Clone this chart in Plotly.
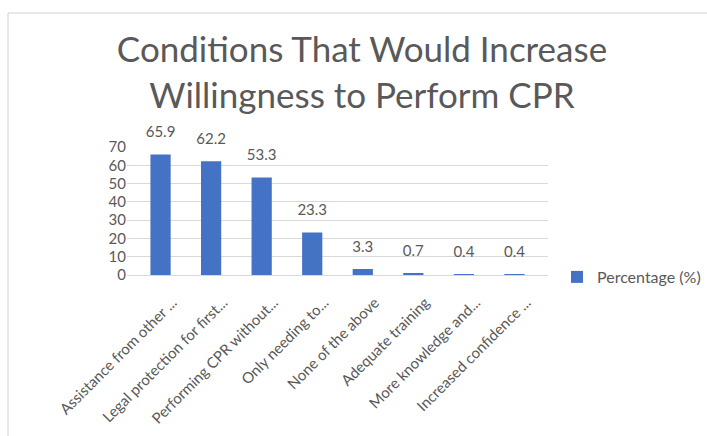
import plotly.graph_objects as go

categories = ["Assistance from other ...", "Legal protection for first...", "Performing CPR without...",
              "Only needing to...", "None of the above", "Adequate training",
              "More knowledge and...", "Increased confidence ..."]
values = [65.9, 62.2, 53.3, 23.3, 3.3, 0.7, 0.4, 0.4]
value_labels = ["65.9", "62.2", "53.3", "23.3", "3.3", "0.7", "0.4", "0.4"]
series_name = "Percentage (%)"
y_ticks = [0, 10, 20, 30, 40, 50, 60, 70]

FONT = "Lato"
fig = go.Figure()
fig.add_trace(go.Bar(
    x=categories, y=values, name=series_name,
    marker=dict(color="#4472C4", line=dict(width=0)),
    showlegend=True,
))
# data labels, lifted above the bars by an invisible marker
fig.add_trace(go.Scatter(
    x=categories, y=values, mode="markers+text", text=value_labels,
    textposition="top center", cliponaxis=False,
    marker=dict(size=20, color="rgba(0,0,0,0)"),
    textfont=dict(family=FONT, size=15, color="#595959"),
    showlegend=False, hoverinfo="skip",
))

L, R, T, B = 127, 159, 147, 161
W, H = 707, 436
pw, ph = W - L - R, H - T - B

def px_x(x):
    return (x - L) / pw

def px_y(y):
    return (H - B - y) / ph

fig.add_shape(type="rect", xref="paper", yref="paper",
              x0=px_x(8), x1=px_x(730), y0=px_y(13), y1=px_y(460),
              line=dict(color="#d0d0d0", width=1), fillcolor="rgba(0,0,0,0)", layer="below")

fig.update_layout(
    width=W, height=H,
    margin=dict(l=L, r=R, t=T, b=B, autoexpand=False),
    paper_bgcolor="white", plot_bgcolor="white",
    title=dict(text="Conditions That Would Increase<br>Willingness to Perform CPR",
               x=362 / W, xanchor="center", y=1 - 62 / H, yanchor="top",
               yref="container", xref="container",
               font=dict(family=FONT, size=35, color="#595959")),
    bargap=0.6,
    showlegend=True,
    legend=dict(x=557 / W, y=1 - 277 / H, xref="container", yref="container",
                xanchor="left", yanchor="middle",
                font=dict(family=FONT, size=16, color="#595959"),
                bgcolor="rgba(0,0,0,0)", itemwidth=30),
    xaxis=dict(tickangle=-45, tickfont=dict(family=FONT, size=15, color="#595959"),
               ticklabelshift=12, ticklabelstandoff=12, automargin=False,
               showline=True, linecolor="#d9d9d9", ticks="", showgrid=False),
    yaxis=dict(range=[0, 70], tickvals=y_ticks, showgrid=True, gridcolor="#d9d9d9",
               zeroline=False, showline=False, automargin=False,
               tickfont=dict(family=FONT, size=15, color="#595959")),
)

fig.write_html("out.html")
